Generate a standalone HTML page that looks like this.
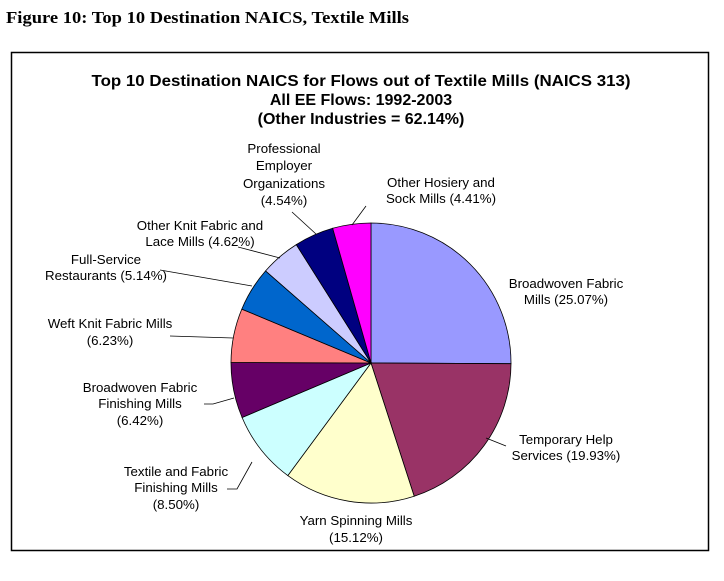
<!DOCTYPE html>
<html><head><style>
body{margin:0;background:#fff;width:724px;height:576px;overflow:hidden}
</style></head><body>
<svg width="724" height="576" xmlns="http://www.w3.org/2000/svg">
<text x="6" y="23" font-family="Liberation Serif, serif" font-weight="bold" font-size="17" textLength="403" lengthAdjust="spacingAndGlyphs">Figure 10: Top 10 Destination NAICS, Textile Mills</text>
<rect x="11.5" y="52.5" width="697" height="498" fill="#fff" stroke="#000" stroke-width="1.5"/>
<g font-family="Liberation Sans, sans-serif" font-weight="bold" font-size="16" text-anchor="middle">
<text x="361" y="86" textLength="539" lengthAdjust="spacingAndGlyphs">Top 10 Destination NAICS for Flows out of Textile Mills (NAICS 313)</text>
<text x="361" y="105">All EE Flows: 1992-2003</text>
<text x="361" y="124">(Other Industries = 62.14%)</text>
</g>
<g stroke="#000" stroke-width="0.8">
<path d="M371 363 L371 223 A140 140 0 0 1 511 363.7 Z" fill="#9999FF"/>
<path d="M371 363 L511 363.7 A140 140 0 0 1 414.2 496.2 Z" fill="#993366"/>
<path d="M371 363 L414.2 496.2 A140 140 0 0 1 287.8 475.6 Z" fill="#FFFFCC"/>
<path d="M371 363 L287.8 475.6 A140 140 0 0 1 242.1 417.5 Z" fill="#CCFFFF"/>
<path d="M371 363 L242.1 417.5 A140 140 0 0 1 231 362.5 Z" fill="#660066"/>
<path d="M371 363 L231 362.5 A140 140 0 0 1 241.8 309.1 Z" fill="#FF8080"/>
<path d="M371 363 L241.8 309.1 A140 140 0 0 1 265.6 270.9 Z" fill="#0066CC"/>
<path d="M371 363 L265.6 270.9 A140 140 0 0 1 296.3 244.6 Z" fill="#CCCCFF"/>
<path d="M371 363 L296.3 244.6 A140 140 0 0 1 332.7 228.3 Z" fill="#000080"/>
<path d="M371 363 L332.7 228.3 A140 140 0 0 1 371 223 Z" fill="#FF00FF"/>
</g>
<g stroke="#000" stroke-width="0.8" fill="none">
<path d="M292 212 L316 234"/>
<path d="M366 206 L352 225"/>
<path d="M238 247 L280 258"/>
<path d="M160 270 L252 286"/>
<path d="M170 336 L233 338"/>
<path d="M204 404 L213 404 L234 398"/>
<path d="M227 489 L237 489 L252 462"/>
<path d="M506 446 L486 438"/>
</g>
<g font-family="Liberation Sans, sans-serif" font-size="13.3" text-anchor="middle" fill="#000">
<text x="284" y="153">Professional</text><text x="284" y="170">Employer</text><text x="284" y="188">Organizations</text><text x="284" y="205">(4.54%)</text>
<text x="441" y="187">Other Hosiery and</text><text x="441" y="203">Sock Mills (4.41%)</text>
<text x="200" y="230">Other Knit Fabric and</text><text x="200" y="246">Lace Mills (4.62%)</text>
<text x="106" y="264">Full-Service</text><text x="106" y="280">Restaurants (5.14%)</text>
<text x="110" y="328">Weft Knit Fabric Mills</text><text x="110" y="345">(6.23%)</text>
<text x="140" y="392">Broadwoven Fabric</text><text x="140" y="408">Finishing Mills</text><text x="140" y="425">(6.42%)</text>
<text x="176" y="476">Textile and Fabric</text><text x="176" y="492">Finishing Mills</text><text x="176" y="509">(8.50%)</text>
<text x="356" y="525">Yarn Spinning Mills</text><text x="356" y="542">(15.12%)</text>
<text x="566" y="444">Temporary Help</text><text x="566" y="460">Services (19.93%)</text>
<text x="566" y="288">Broadwoven Fabric</text><text x="566" y="304">Mills (25.07%)</text>
</g>
</svg>
</body></html>
